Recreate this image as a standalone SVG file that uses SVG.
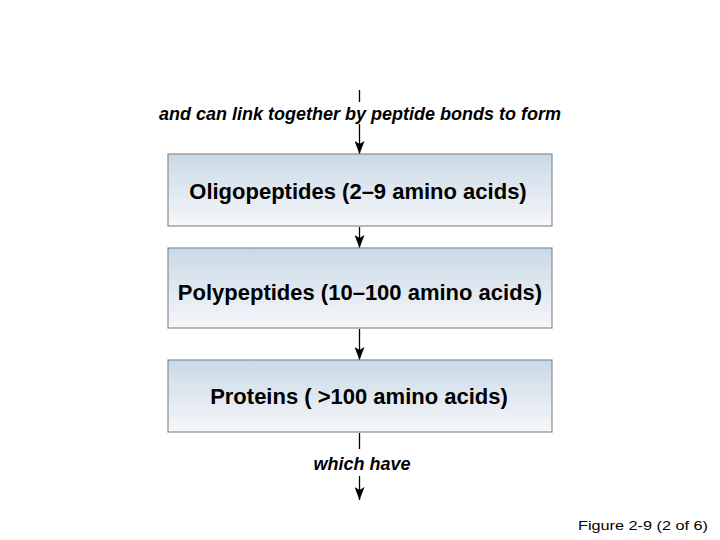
<svg xmlns="http://www.w3.org/2000/svg" width="720" height="540" viewBox="0 0 720 540">
<defs>
<linearGradient id="g" x1="0" y1="0" x2="0" y2="1">
<stop offset="0" stop-color="#c9d9e7"/>
<stop offset="1" stop-color="#f6f7f9"/>
</linearGradient>
<marker id="ah" markerWidth="13" markerHeight="10" refX="13" refY="5" orient="auto" markerUnits="userSpaceOnUse" viewBox="0 0 13 10">
<path d="M0,0 L13,5 L0,10 L3,5 Z" fill="#000"/>
</marker>
<style>
.box{fill:url(#g);stroke:#8a8a8a;stroke-width:1.2}
.lbl{font-family:"Liberation Sans",Arial,sans-serif;font-weight:bold;font-size:22px;fill:#000;text-anchor:middle}
.it{font-family:"Liberation Sans",Arial,sans-serif;font-weight:bold;font-style:italic;font-size:18px;fill:#000;text-anchor:middle}
.ln{stroke:#000;stroke-width:1.3;fill:none}
.arr{stroke:#000;stroke-width:1.3;fill:none;marker-end:url(#ah)}
</style>
</defs>
<rect width="720" height="540" fill="#fff"/>
<g id="connectors">
<line class="ln" x1="359.5" y1="90" x2="359.5" y2="102"/>
<line class="arr" x1="359.5" y1="124" x2="359.5" y2="154"/>
<line class="arr" x1="359.5" y1="227" x2="359.5" y2="248"/>
<line class="arr" x1="359.5" y1="329" x2="359.5" y2="360"/>
<line class="ln" x1="359.5" y1="433" x2="359.5" y2="449"/>
<line class="arr" x1="359.5" y1="476" x2="359.5" y2="500"/>
<text class="it" x="360" y="119.5">and can link together by peptide bonds to form</text>
<text class="it" x="362" y="469.5">which have</text>
</g>
<g id="oligo">
<rect class="box" x="168" y="154" width="384" height="72"/>
<text class="lbl" x="358" y="199">Oligopeptides (2–9 amino acids)</text>
</g>
<g id="poly">
<rect class="box" x="168" y="248" width="384" height="80"/>
<text class="lbl" x="360" y="300">Polypeptides (10–100 amino acids)</text>
</g>
<g id="proteins">
<rect class="box" x="168" y="360" width="384" height="72"/>
<text class="lbl" x="359" y="404">Proteins ( &gt;100 amino acids)</text>
</g>
<text x="578" y="530" font-family="Liberation Sans,Arial,sans-serif" font-size="13.5" textLength="130" lengthAdjust="spacingAndGlyphs" fill="#000">Figure 2-9 (2 of 6)</text>
</svg>
